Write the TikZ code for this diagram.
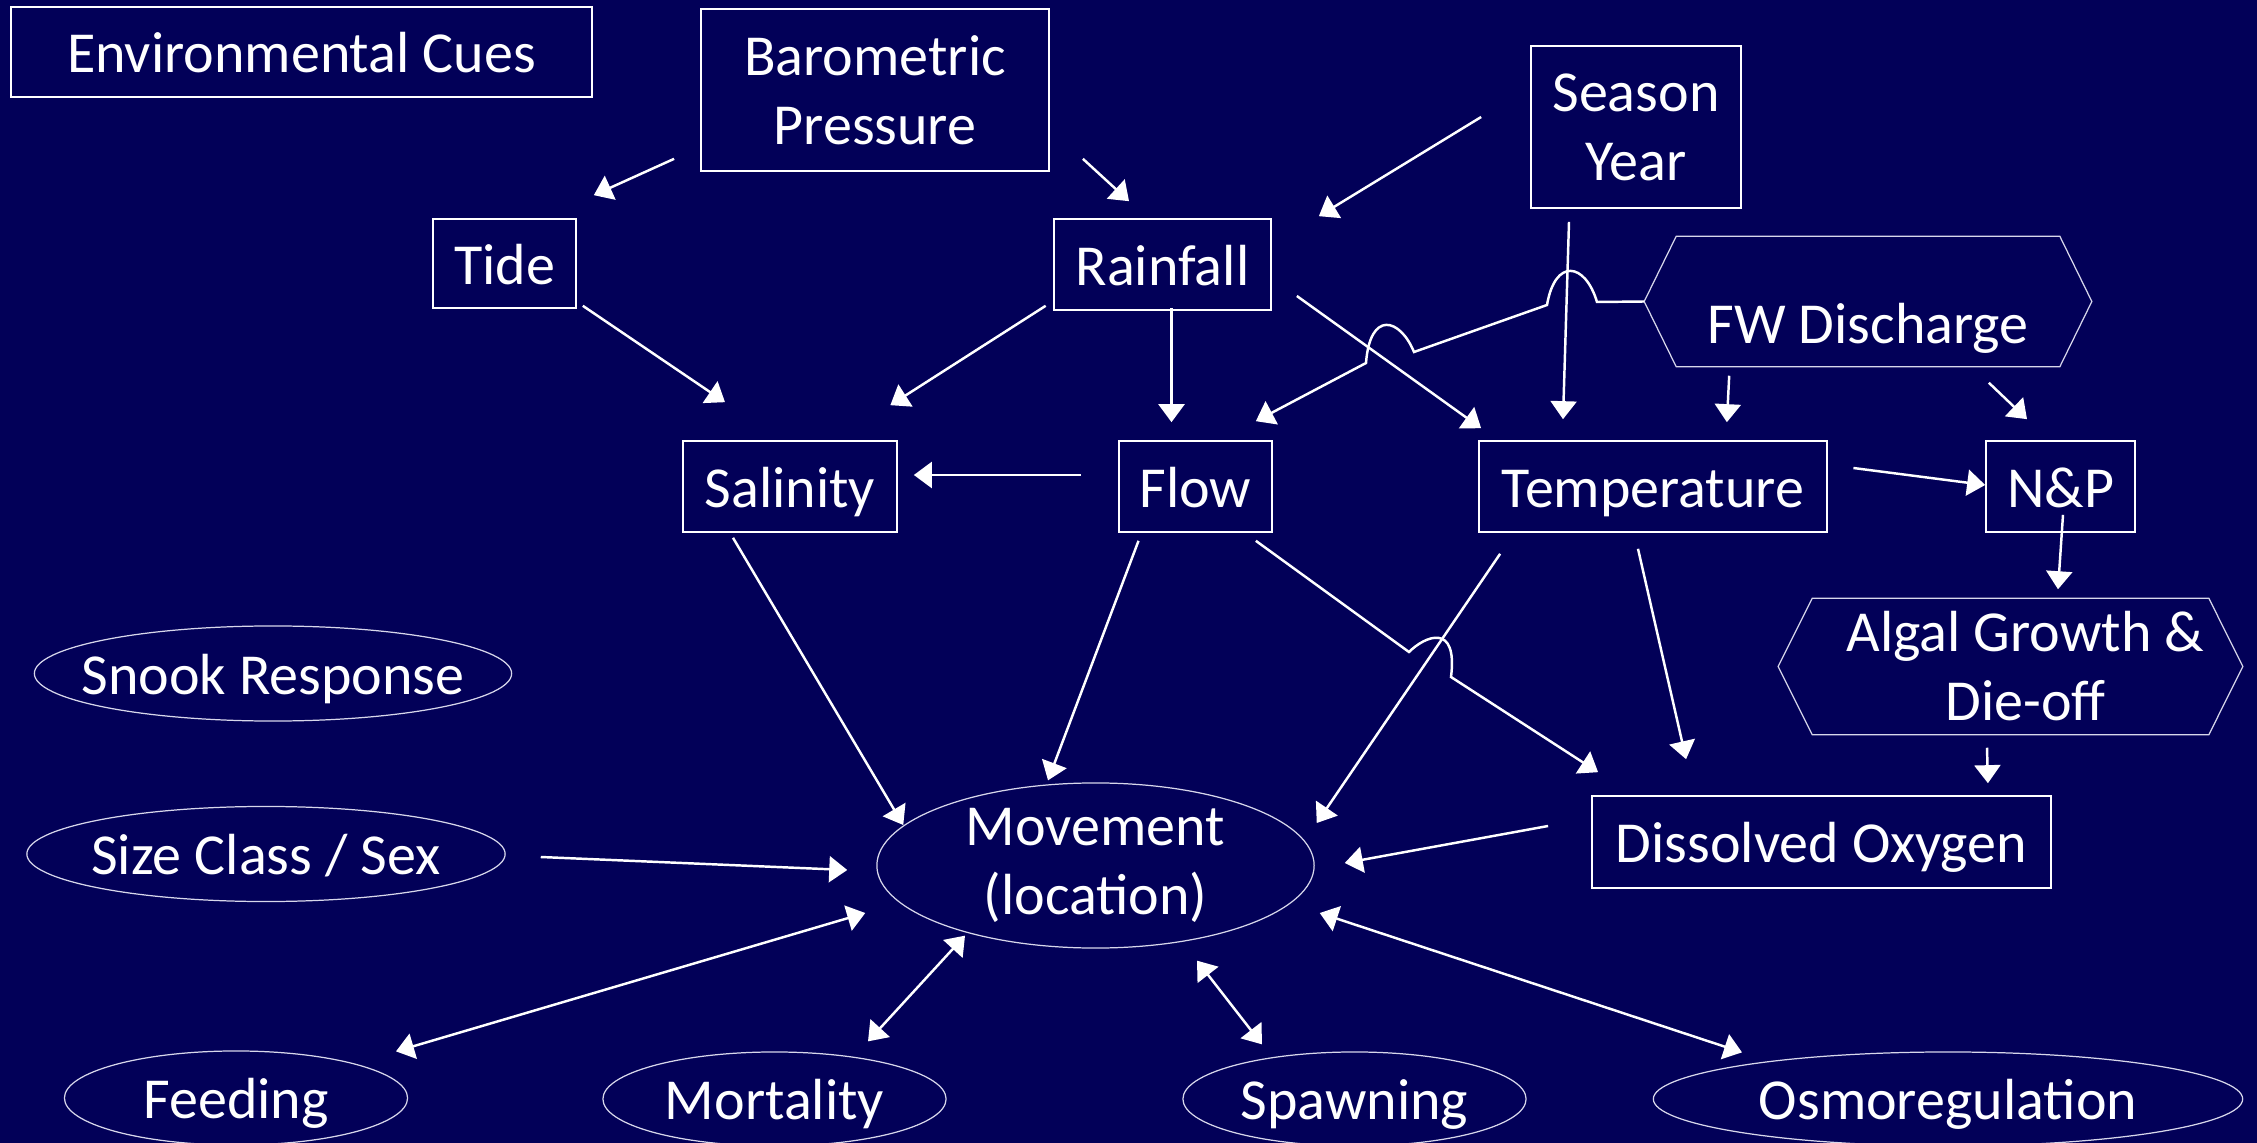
\documentclass[tikz,border=0pt]{standalone}
\usepackage{fontspec}
\setmainfont{Carlito}
\usetikzlibrary{shapes.geometric,arrows.meta}
\definecolor{navybg}{RGB}{2,0,88}
\definecolor{rimgray}{RGB}{215,215,235}

\begin{document}
\begin{tikzpicture}[x=0.01cm, y=-0.01cm]
    \tikzstyle{every node}=[
        text = white,
        font = \fontsize{16.5}{19.6}\selectfont,
        align = center,
        inner sep = 0pt
    ]
    \tikzstyle{one line}=[
        text height = 0.41cm,
        text depth = 0cm
    ]
    \tikzstyle{cue box}=[
        draw = white,
        line width = 0.45pt,
        rectangle
    ]
    \tikzstyle{response}=[
        draw = rimgray,
        line width = 0.35pt,
        inner xsep = -0.3cm,
        ellipse
    ]
    \tikzstyle{hex line}=[
        draw = rimgray,
        line width = 0.35pt
    ]
    \tikzstyle{link}=[
        draw = white,
        line width = 0.7pt,
        -{Triangle[length=0.18cm, width=0.26cm]}
    ]
    \tikzstyle{both ways}=[
        link,
        {Triangle[length=0.18cm, width=0.26cm]}-{Triangle[length=0.18cm, width=0.26cm]}
    ]

    \useasboundingbox (0,0) rectangle (2257,1143);
    \fill[navybg] (0,0) rectangle (2257,1143);
    \clip (0,0) rectangle (2257,1143);

    % environmental cues
    \node[cue box, one line, minimum width=5.81cm, minimum height=0.9cm] (cues) at (301.5, 52) {Environmental Cues};
    \node[cue box, minimum width=3.48cm, minimum height=1.62cm] (baro)   at (875, 90)      {Barometric\\Pressure};
    \node[cue box, minimum width=2.1cm,  minimum height=1.62cm] (season) at (1636, 127)    {Season\\Year};
    \node[cue box, one line, minimum width=1.43cm, minimum height=0.89cm] (tide) at (504.5, 263.5)  {Tide};
    \node[cue box, one line, minimum width=2.17cm, minimum height=0.91cm] (rain) at (1162.5, 264.5) {Rainfall};
    \node[one line, minimum width=3.82cm, minimum height=1.29cm] (fw) at (1868, 301.5) {\raisebox{-0.21cm}{FW Discharge}};
    \node[cue box, one line, minimum width=2.14cm, minimum height=0.91cm] (sal)  at (790, 486.5)    {Salinity};
    \node[cue box, one line, minimum width=1.53cm, minimum height=0.91cm] (flow) at (1195.5, 486.5) {Flow};
    \node[cue box, one line, minimum width=3.48cm, minimum height=0.91cm] (temp) at (1653, 486.5)   {Temperature};
    \node[cue box, one line, minimum width=1.49cm, minimum height=0.91cm] (np)   at (2060.5, 486.5) {N\&P};
    \node[minimum width=3.95cm, minimum height=1.35cm] (algae) at (2010.5, 666.5) {\hspace*{0.3cm}Algal Growth \&\\\hspace*{0.3cm}Die-off};
    \node[cue box, one line, minimum width=4.59cm, minimum height=0.92cm] (oxygen) at (1821.5, 842) {Dissolved Oxygen};

    \draw[hex line] ([xshift=-0.32cm]fw.west) -- (fw.north west) -- (fw.north east) -- ([xshift=0.32cm]fw.east) -- (fw.south east) -- (fw.south west) -- cycle;
    \draw[hex line] ([xshift=-0.34cm]algae.west) -- (algae.north west) -- (algae.north east) -- ([xshift=0.34cm]algae.east) -- (algae.south east) -- (algae.south west) -- cycle;

    % snook response
    \node[response, minimum width=4.37cm, minimum height=1.65cm] (move) at (1095.5, 865.5) {Movement\\(location)};
    \node[response, one line, minimum width=4.77cm, minimum height=0.95cm] (snook) at (273, 673.5)   {Snook Response};
    \node[response, one line, minimum width=4.78cm, minimum height=0.95cm] (size)  at (266, 854)     {Size Class / Sex};
    \node[response, one line, minimum width=3.43cm, minimum height=0.94cm] (feed)  at (236, 1098)    {Feeding};
    \node[response, one line, minimum width=3.43cm, minimum height=0.94cm] (mort)  at (774.5, 1099)  {Mortality};
    \node[response, one line, minimum width=3.43cm, minimum height=0.94cm] (spawn) at (1354.5, 1099) {Spawning};
    \node[response, one line, minimum width=5.89cm, minimum height=0.94cm] (osmo)  at (1948, 1099)   {Osmoregulation};

    \draw[link] ([shift={(-26,-13)}]baro.south west) -- ([shift={(17,-23)}]tide.north east);
    \draw[link] ([shift={(33,-13)}]baro.south east) -- ([shift={(-33.5,-17)}]rain.north);
    \draw[link] ([shift={(-49,-10)}]season.west) -- ([shift={(47,-2)}]rain.north east);
    \draw[link] ([shift={(6,-3)}]tide.south east) -- ([shift={(-65,-38)}]sal.north);
    \draw[link] ([shift={(-7.5,-5)}]rain.south west) -- ([shift={(-7.5,-35)}]sal.north east);
    \draw[link] ([shift={(9,-3)}]rain.south) -- ([shift={(-24,-18)}]flow.north);
    \draw[link] ([shift={(25,31.5)}]rain.east) -- ([shift={(3,-12)}]temp.north west);
    \draw[link] ([shift={(-67,13)}]season.south) -- ([shift={(-90,-21)}]temp.north);
    \draw[link] ([shift={(53,9)}]fw.south west) -- ([shift={(-101,-18)}]temp.north east);
    \draw[link] ([shift={(-71,16)}]fw.south east) -- ([shift={(-33.5,-21)}]np.north);
    \draw[link] ([xshift=-0.32cm]fw.west) -- (1597,302) .. controls (1585,262) and (1555,258) .. (1547,305)
        -- (1414,352) .. controls (1400,318) and (1370,310) .. (1366,363) -- ([shift={(-17,-19)}]flow.north east);
    \draw[link] ([shift={(-37,-11.5)}]flow.west) -- ([shift={(16,-11.5)}]sal.east);
    \draw[link] ([shift={(25.5,-18.5)}]temp.east) -- ([shift={(0,-1.5)}]np.west);
    \draw[link] ([shift={(2.5,-18)}]np.south) -- ([shift={(47.5,-9)}]algae.north);
    \draw[link] ([shift={(-23.5,13)}]algae.south) -- ([shift={(-64,-12)}]oxygen.north east);

    \draw[link] ([shift={(-57,5)}]sal.south) -- ([shift={(27,-40.5)}]move.west);
    \draw[link] ([shift={(-57,8)}]flow.south) -- ([shift={(-47.5,-2)}]move.north);
    \draw[link] ([shift={(-17,8)}]flow.south east) -- (1409,652) .. controls (1425,636) and (1458,622) .. (1451,677)
        -- ([shift={(7,-23)}]oxygen.north west);
    \draw[link] ([shift={(22,21)}]temp.south west) -- ([shift={(2,-42.5)}]move.east);
    \draw[link] ([shift={(-15,16)}]temp.south) -- ([shift={(95,-36)}]oxygen.north west);
    \draw[link] ([shift={(-43,-16)}]oxygen.west) -- ([shift={(30,-2.5)}]move.east);
    \draw[link] ([shift={(35,3)}]size.east) -- ([shift={(-29,4.5)}]move.west);

    \draw[both ways] ([shift={(-11,47.5)}]move.west) -- ([shift={(160,1)}]feed.north);
    \draw[both ways] ([shift={(-130.5,-13)}]move.south) -- ([shift={(93.5,-10)}]mort.north);
    \draw[both ways] ([shift={(101.5,12)}]move.south) -- ([shift={(-92.5,-7)}]spawn.north);
    \draw[both ways] ([shift={(5,47.5)}]move.east) -- ([shift={(-206,1)}]osmo.north);
\end{tikzpicture}
\end{document}
